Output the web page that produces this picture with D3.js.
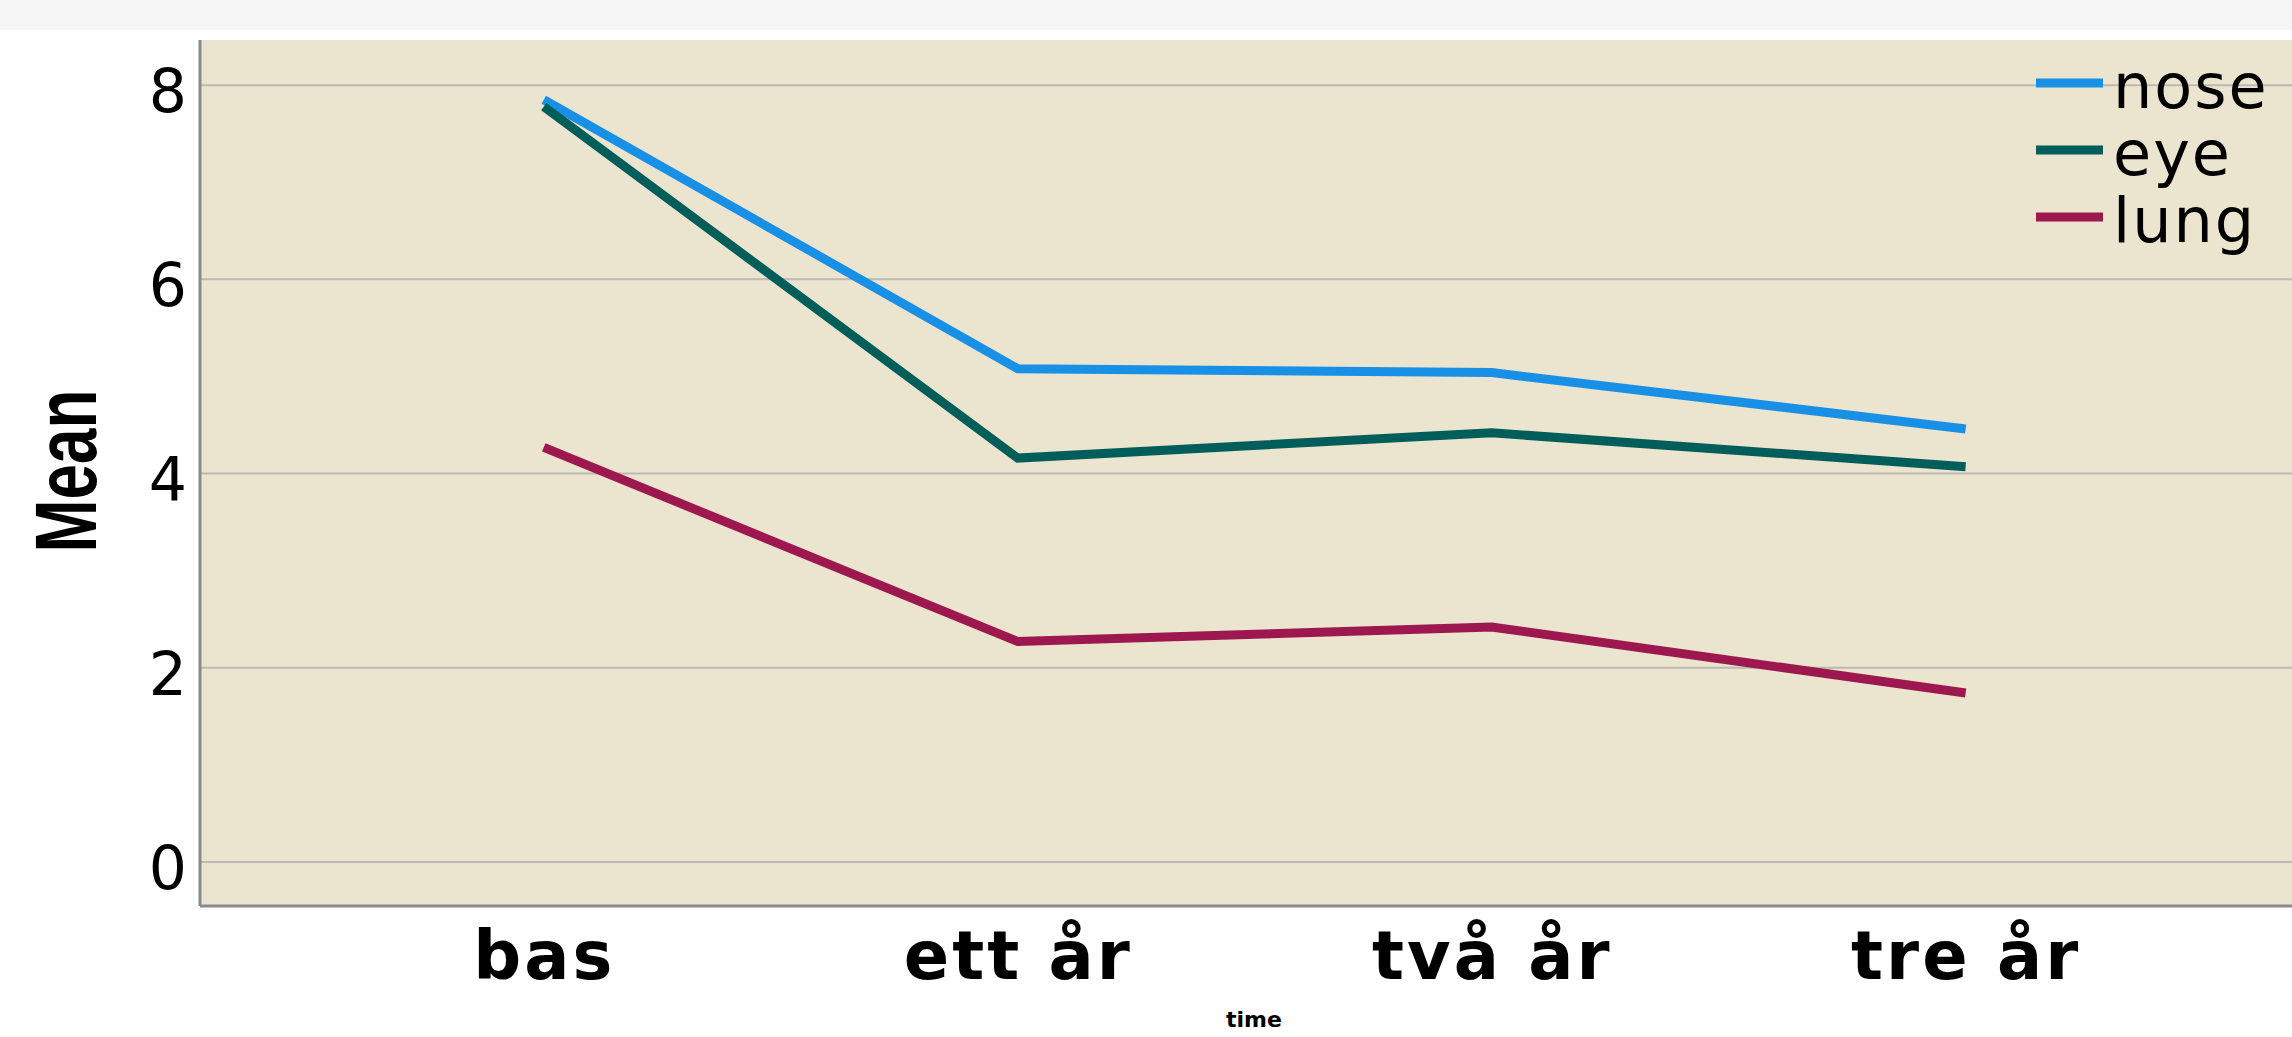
<!DOCTYPE html>
<html>
<head>
<meta charset="utf-8">
<script src="https://cdn.jsdelivr.net/npm/d3@7"></script>
<style>
  body { margin: 0; background: #fff; overflow: hidden; }
  .topbar { position: absolute; left: 0; top: 0; width: 2292px; height: 30px; background: #f6f6f6; }
</style>
</head>
<body>
<div class="topbar"></div>
<div class="chart"></div>
<script>
// data
var times = ["bas", "ett år", "två år", "tre år"];
var seriesNames = ["nose", "eye", "lung"];
var noseValues = [7.85, 5.08, 5.04, 4.46];
var eyeValues = [7.78, 4.16, 4.42, 4.07];
var lungValues = [4.27, 2.27, 2.42, 1.74];
var yTicks = [0, 2, 4, 6, 8];
var colors = ["#1890e6", "#005e5a", "#9e1850"];

var svgWidth = 2292;
var svgHeight = 1037;

var margin = { top: 40, right: 0, bottom: 131, left: 200 };
var width = svgWidth - margin.left - margin.right;
var height = svgHeight - margin.top - margin.bottom;

var svg = d3.select(".chart")
  .append("svg")
  .attr("width", svgWidth)
  .attr("height", svgHeight)
  .style("position", "absolute")
  .style("left", 0)
  .style("top", 0);

var chartGroup = svg.append("g")
  .attr("transform", `translate(${margin.left}, ${margin.top})`);

// scales
var xScale = d3.scalePoint()
  .domain(times)
  .range([0, width])
  .padding(0.707)
  .align(0.513);

var yScale = d3.scaleLinear()
  .domain([-0.453, 8.465])
  .range([height, 0]);

// plot background
chartGroup.append("rect")
  .attr("width", width)
  .attr("height", height)
  .attr("fill", "#ebe4cf");

// gridlines
chartGroup.selectAll(".grid")
  .data(yTicks)
  .enter()
  .append("line")
  .attr("x1", 0)
  .attr("x2", width)
  .attr("y1", d => yScale(d))
  .attr("y2", d => yScale(d))
  .attr("stroke", "#bdbab3")
  .attr("stroke-width", 2);

// axes
var leftAxis = d3.axisLeft(yScale).tickValues(yTicks).tickSize(0).tickPadding(13);
var bottomAxis = d3.axisBottom(xScale).tickSize(0);

var yAxisG = chartGroup.append("g").call(leftAxis);
yAxisG.select(".domain").remove();
yAxisG.selectAll("text")
  .attr("dy", "0.44em")
  .style("font-family", "'DejaVu Sans', sans-serif")
  .style("font-size", "60px")
  .attr("fill", "#000");

var xAxisG = chartGroup.append("g")
  .attr("transform", `translate(0, ${height})`)
  .call(bottomAxis);
xAxisG.select(".domain").remove();
xAxisG.selectAll("text")
  .attr("y", 73)
  .attr("dy", 0)
  .style("font-family", "'DejaVu Sans', sans-serif")
  .style("font-weight", "bold")
  .style("font-size", "67px")
  .style("letter-spacing", "3px")
  .attr("fill", "#000");

// axis lines
chartGroup.append("line")
  .attr("x1", 0).attr("x2", 0)
  .attr("y1", 0).attr("y2", height)
  .attr("stroke", "#8a8a8a")
  .attr("stroke-width", 3);

chartGroup.append("line")
  .attr("x1", 0).attr("x2", width)
  .attr("y1", height).attr("y2", height)
  .attr("stroke", "#8a8a8a")
  .attr("stroke-width", 3);

// lines
var seriesData = [noseValues, eyeValues, lungValues];

var line = d3.line()
  .x((d, i) => xScale(times[i]))
  .y(d => yScale(d));

chartGroup.selectAll(".series")
  .data(seriesData)
  .enter()
  .append("path")
  .attr("d", d => line(d))
  .attr("fill", "none")
  .attr("stroke", (d, i) => colors[i])
  .attr("stroke-width", 9);

// legend
var legend = svg.append("g")
  .attr("transform", "translate(2036, 83)");

var legendItems = legend.selectAll(".item")
  .data(seriesNames)
  .enter()
  .append("g")
  .attr("transform", (d, i) => `translate(0, ${i * 67})`);

legendItems.append("line")
  .attr("x1", 0).attr("x2", 67)
  .attr("y1", 0).attr("y2", 0)
  .attr("stroke", (d, i) => colors[i])
  .attr("stroke-width", 9);

legendItems.append("text")
  .attr("x", 77)
  .attr("y", 25)
  .style("font-family", "'DejaVu Sans', sans-serif")
  .style("font-size", "62px")
  .style("letter-spacing", "2px")
  .attr("fill", "#000")
  .text(d => d);

// axis titles
svg.append("text")
  .attr("transform", "translate(96, 471) rotate(-90)")
  .attr("text-anchor", "middle")
  .attr("textLength", 163)
  .attr("lengthAdjust", "spacingAndGlyphs")
  .style("font-family", "'Liberation Sans Narrow', 'Liberation Sans', sans-serif")
  .style("font-weight", "bold")
  .style("font-size", "88px")
  .text("Mean");

svg.append("text")
  .attr("x", 1254)
  .attr("y", 1027)
  .attr("text-anchor", "middle")
  .style("font-family", "'DejaVu Sans', sans-serif")
  .style("font-weight", "bold")
  .style("font-size", "22px")
  .text("time");
</script>
</body>
</html>
